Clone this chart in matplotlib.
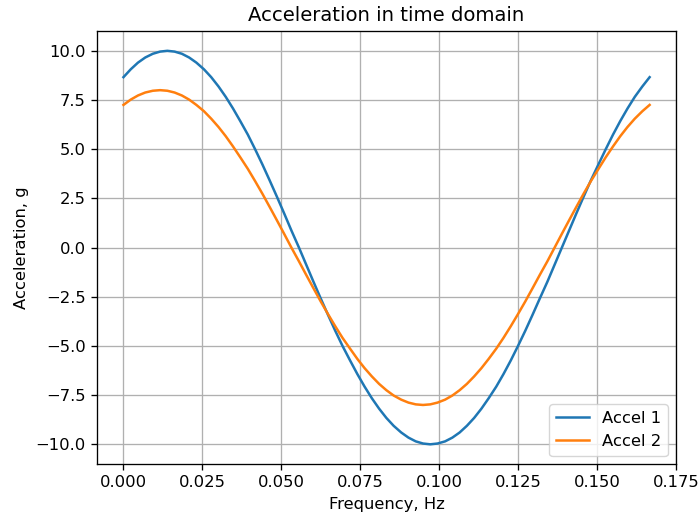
import matplotlib
matplotlib.use('Agg')
import matplotlib.pyplot as plt

plt.rcParams['font.size'] = 11.8
plt.rcParams['lines.linewidth'] = 1.8
plt.rcParams['grid.linewidth'] = 0.95
plt.rcParams['axes.linewidth'] = 0.95
plt.rcParams['xtick.major.size'] = 4.1
plt.rcParams['ytick.major.size'] = 4.1
plt.rcParams['xtick.major.pad'] = 4.1
plt.rcParams['ytick.major.pad'] = 4.1
plt.rcParams['xtick.major.width'] = 0.95
plt.rcParams['ytick.major.width'] = 0.95
plt.rcParams['axes.labelpad'] = 4.7
plt.rcParams['axes.titlepad'] = 7.1

# sample times, s
t = [0.0000, 0.0023, 0.0046, 0.0069, 0.0093, 0.0116, 0.0139, 0.0162, 0.0185,
     0.0208, 0.0231, 0.0255, 0.0278, 0.0301, 0.0324, 0.0347, 0.0370, 0.0394,
     0.0417, 0.0440, 0.0463, 0.0486, 0.0509, 0.0532, 0.0556, 0.0579, 0.0602,
     0.0625, 0.0648, 0.0671, 0.0694, 0.0718, 0.0741, 0.0764, 0.0787, 0.0810,
     0.0833, 0.0856, 0.0880, 0.0903, 0.0926, 0.0949, 0.0972, 0.0995, 0.1019,
     0.1042, 0.1065, 0.1088, 0.1111, 0.1134, 0.1157, 0.1181, 0.1204, 0.1227,
     0.1250, 0.1273, 0.1296, 0.1319, 0.1343, 0.1366, 0.1389, 0.1412, 0.1435,
     0.1458, 0.1481, 0.1505, 0.1528, 0.1551, 0.1574, 0.1597, 0.1620, 0.1644,
     0.1667]

accel_1 = [8.66, 9.06, 9.40, 9.66, 9.85, 9.96, 10.0, 9.96, 9.85, 9.66, 9.40,
           9.06, 8.66, 8.19, 7.66, 7.07, 6.43, 5.74, 5.00, 4.23, 3.42, 2.59,
           1.74, 0.87, 0.0, -0.87, -1.74, -2.59, -3.42, -4.23, -5.0, -5.74,
           -6.43, -7.07, -7.66, -8.19, -8.66, -9.06, -9.40, -9.66, -9.85,
           -9.96, -10.0, -9.96, -9.85, -9.66, -9.40, -9.06, -8.66, -8.19,
           -7.66, -7.07, -6.43, -5.74, -5.0, -4.23, -3.42, -2.59, -1.74, -0.87,
           0.0, 0.87, 1.74, 2.59, 3.42, 4.23, 5.0, 5.74, 6.43, 7.07, 7.66,
           8.19, 8.66]

accel_2 = [7.25, 7.52, 7.73, 7.88, 7.97, 8.0, 7.97, 7.88, 7.73, 7.52, 7.25,
           6.93, 6.55, 6.13, 5.66, 5.14, 4.59, 4.0, 3.38, 2.74, 2.07, 1.39,
           0.70, 0.0, -0.70, -1.39, -2.07, -2.74, -3.38, -4.0, -4.59, -5.14,
           -5.66, -6.13, -6.55, -6.93, -7.25, -7.52, -7.73, -7.88, -7.97,
           -8.0, -7.97, -7.88, -7.73, -7.52, -7.25, -6.93, -6.55, -6.13,
           -5.66, -5.14, -4.59, -4.0, -3.38, -2.74, -2.07, -1.39, -0.70, 0.0,
           0.70, 1.39, 2.07, 2.74, 3.38, 4.0, 4.59, 5.14, 5.66, 6.13, 6.55,
           6.93, 7.25]

fig = plt.figure(figsize=(6.99, 5.19), dpi=100)
ax = fig.add_subplot(111)
fig.subplots_adjust(left=0.139, right=0.967, top=0.940, bottom=0.106)

ax.plot(t, accel_1, label='Accel 1')
ax.plot(t, accel_2, label='Accel 2')

ax.set_title('Acceleration in time domain')
ax.set_xlabel('Frequency, Hz')
ax.set_ylabel('Acceleration, g')
ax.grid(True)
ax.legend(loc='lower right')

fig.savefig('out.png', dpi=100)
